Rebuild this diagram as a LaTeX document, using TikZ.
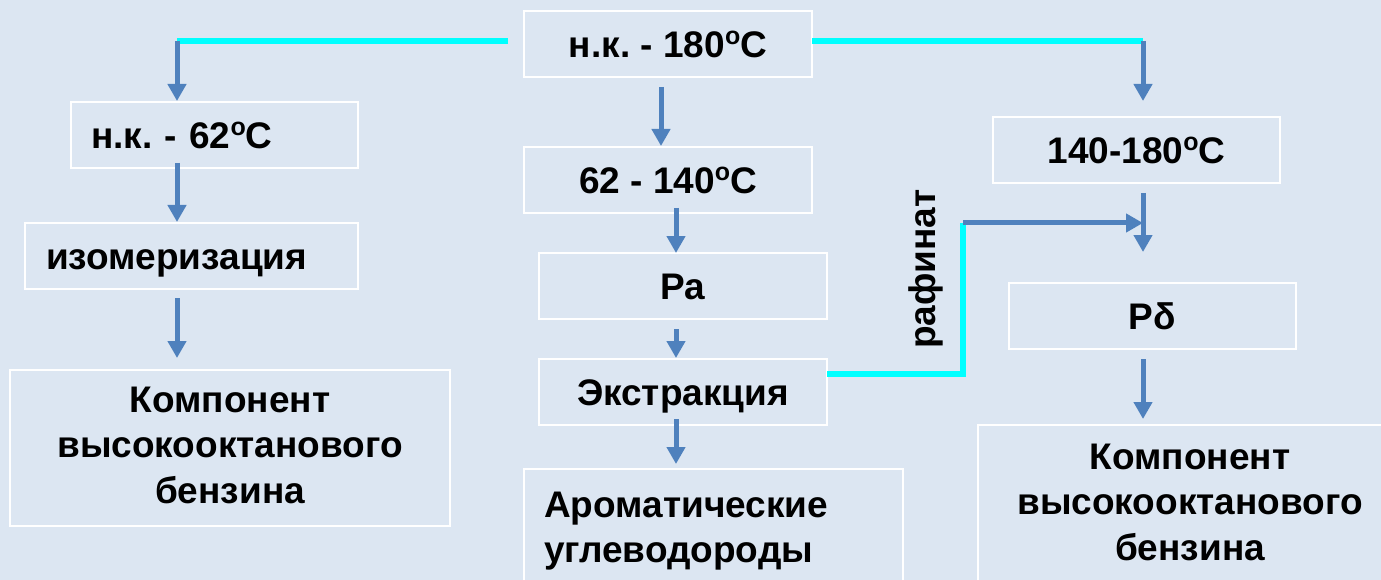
\documentclass[tikz,border=0pt]{standalone}
\usepackage{fontspec}
\setmainfont{Liberation Sans}
\usetikzlibrary{arrows.meta,calc}
\definecolor{bgc}{HTML}{DCE6F2}
\definecolor{arrblue}{HTML}{4F81BD}
\definecolor{cyanl}{HTML}{00FFFF}
\newcommand{\dgr}{\raisebox{13pt}{\fontsize{25}{25}\selectfont o}}
\frenchspacing
\begin{document}
\begin{tikzpicture}[x=1pt,y=-1pt,
  font=\fontsize{37}{45.5}\selectfont\bfseries,
  box/.style={draw=white, line width=2.5pt, inner sep=0pt, outer sep=0pt, minimum height=66pt},
  one/.style={box, text height=26.5pt, text depth=0pt},
  arr/.style={draw=arrblue, line width=5pt, -{Triangle[width=18pt,length=17pt]}},
  cy/.style={draw=cyanl, line width=6pt}]
\useasboundingbox (0,0) rectangle (1381,580);
\fill[bgc] (0,0) rectangle (1381,580);
\clip (0,0) rectangle (1381,580);
% boxes
\node[one, minimum width=288pt] (top) at (668,44) {н.к. - 180\dgr C};
\node[one, minimum width=287pt, text width=247pt, inner xsep=20pt, align=left] (n62) at (214.5,135) {н.к. - 62\dgr C};
\node[one, minimum width=333pt, text width=291pt, inner xsep=21pt, align=left] (izo) at (191.5,256) {изомеризация};
\node[box, minimum width=440pt, minimum height=156pt] (kL) at (230,448) {};
\node[align=center, inner sep=0pt] (kLt) at (230,445) {Компонент\\высокооктанового\\бензина};
\node[one, minimum width=288pt] (t62) at (668,180) {62 - 140\dgr C};
\node[one, minimum width=288pt] (ra) at (683,286) {Ра};
\node[one, minimum width=288pt] (ext) at (683,392) {Экстракция};
\node[box, anchor=north west, minimum width=379pt, minimum height=160pt] (arom) at (524,469) {};
\node[anchor=west, align=left, inner sep=0pt] (aromt) at (544,531) {Ароматические\\углеводороды};
\node[one, minimum width=287pt] (t140) at (1136.5,150) {140-180\dgr C};
\node[one, minimum width=287pt] (rb) at (1152.5,316) {Рδ};
\node[box, anchor=north west, minimum width=450pt, minimum height=200pt] (kR) at (978,425) {};
\node[align=center, inner sep=0pt] (kRt) at (1190,502) {Компонент\\высокооктанового\\бензина};
\node[rotate=90, inner sep=0pt] (raf) at (926,269) {рафинат};
% connectors
\coordinate (cL) at (177,41);
\coordinate (cR) at (1143,41);
\coordinate (jr) at (963,223);
\draw[cy] ($(top.west)+(-16,-3)$) -- (cL);
\draw[arr] (cL) -- ($(n62.north)+(-37.5,-1)$);
\draw[cy] ($(top.east)+(0,-3)$) -- (cR);
\draw[arr] (cR) -- ($(t140.north)+(6.5,-16)$);
\draw[arr] ($(top.south)+(-7,10)$) -- ($(t62.north)+(-7,-1)$);
\draw[arr] ($(t62.south)+(8,-5)$) -- ($(ra.north)+(-7,0)$);
\draw[arr] ($(ra.south)+(-7,10)$) -- ($(ext.north)+(-7,-1)$);
\draw[arr] ($(ext.south)+(-7,-6)$) -- ($(arom.north west)+(152,-5)$);
\draw[arr] ($(n62.south)+(-37.5,-5)$) -- ($(izo.north)+(-14.5,-1)$);
\draw[arr] ($(izo.south)+(-14.5,9)$) -- ($(kL.north)+(-53,-12)$);
\draw[arr] ($(t140.south)+(6.5,10)$) -- ($(rb.north)+(-9.5,-31)$);
\draw[cy] ($(ext.east)+(0,-18)$) -| (jr);
\draw[arr] (jr) -- (jr -| cR);
\draw[arr] ($(rb.south)+(-9.5,10)$) -- ($(kR.north west)+(165,-6)$);
\end{tikzpicture}
\end{document}
